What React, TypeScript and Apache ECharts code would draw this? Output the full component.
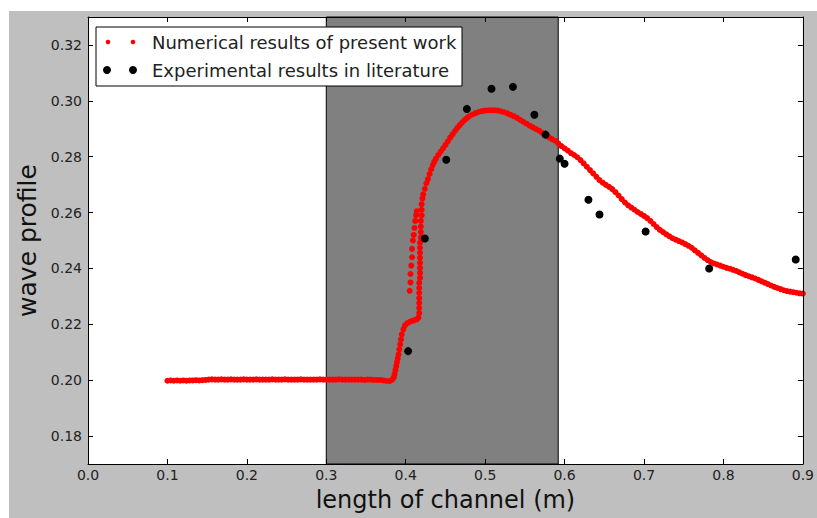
import React, { useEffect, useRef } from "react";
import * as echarts from "echarts";

const FONT = "DejaVu Sans";

// Numerical results of present work (red)
const plateauX = [0.100,0.104,0.108,0.112,0.116,0.120,0.124,0.128,0.132,0.136,0.140,0.144,0.148,0.152,0.156,0.160,0.164,0.168,0.172,0.176,0.180,0.184,0.188,0.192,0.196,0.200,0.204,0.208,0.212,0.216,0.220,0.224,0.228,0.232,0.236,0.240,0.244,0.248,0.252,0.256,0.260,0.264,0.268,0.272,0.276,0.280,0.284,0.288,0.292,0.296,0.300,0.304,0.308,0.312,0.316,0.320,0.324,0.328,0.332,0.336,0.340,0.344,0.348,0.352,0.356,0.360,0.364,0.368,0.372,0.376,0.380];
const plateauY = [0.1998,0.1999,0.1998,0.1999,0.1998,0.1999,0.1998,0.1999,0.1999,0.2000,0.1999,0.2000,0.2001,0.2002,0.2003,0.2002,0.2002,0.2003,0.2002,0.2002,0.2003,0.2002,0.2002,0.2002,0.2003,0.2002,0.2002,0.2002,0.2003,0.2002,0.2002,0.2002,0.2002,0.2003,0.2002,0.2002,0.2002,0.2003,0.2002,0.2002,0.2002,0.2002,0.2003,0.2002,0.2002,0.2002,0.2002,0.2002,0.2003,0.2002,0.2002,0.2002,0.2002,0.2002,0.2003,0.2002,0.2002,0.2002,0.2002,0.2002,0.2002,0.2002,0.2001,0.2002,0.2002,0.2001,0.2001,0.2001,0.1999,0.1997,0.1997];

const riseX = [0.383,0.385,0.386,0.387,0.388,0.389,0.390,0.391,0.392,0.393,0.394,0.395,0.397,0.399,0.402,0.405,0.408,0.411,0.414,0.416,0.417,0.417,0.417,0.417,0.417,0.417,0.417,0.418,0.418,0.418,0.418,0.418,0.418,0.418,0.418,0.419,0.419,0.419,0.419,0.420,0.420,0.405,0.406,0.406,0.407,0.408,0.408,0.409,0.410,0.411,0.412,0.413,0.414];
const riseY = [0.2002,0.2010,0.2022,0.2036,0.2050,0.2064,0.2078,0.2092,0.2110,0.2128,0.2146,0.2164,0.2182,0.2196,0.2204,0.2209,0.2212,0.2215,0.2218,0.2224,0.2240,0.2258,0.2276,0.2294,0.2312,0.2330,0.2348,0.2366,0.2384,0.2402,0.2420,0.2438,0.2456,0.2474,0.2492,0.2510,0.2530,0.2550,0.2570,0.2590,0.2610,0.2320,0.2350,0.2380,0.2410,0.2440,0.2470,0.2500,0.2520,0.2545,0.2570,0.2590,0.2605];

const crestX = [0.420,0.421,0.422,0.424,0.426,0.428,0.430,0.432,0.434,0.436,0.438,0.441,0.444,0.447,0.450,0.453,0.456,0.459,0.462,0.465,0.468,0.471,0.474,0.477,0.480,0.484,0.488,0.492,0.496,0.500,0.504,0.508,0.512,0.516,0.520,0.524,0.528,0.532,0.536,0.540,0.544,0.548,0.552,0.556,0.560,0.564,0.568,0.572,0.576,0.580,0.584,0.588,0.592,0.596,0.600];
const crestY = [0.2630,0.2650,0.2665,0.2685,0.2705,0.2720,0.2738,0.2755,0.2770,0.2782,0.2793,0.2806,0.2818,0.2830,0.2842,0.2855,0.2868,0.2880,0.2892,0.2903,0.2913,0.2922,0.2931,0.2938,0.2945,0.2951,0.2956,0.2960,0.2963,0.2965,0.2966,0.2966,0.2966,0.2965,0.2962,0.2959,0.2955,0.2950,0.2945,0.2939,0.2932,0.2925,0.2918,0.2911,0.2905,0.2899,0.2893,0.2885,0.2877,0.2870,0.2863,0.2857,0.2848,0.2838,0.2830];

const decayX = [0.604,0.608,0.612,0.616,0.620,0.624,0.628,0.632,0.636,0.640,0.644,0.648,0.652,0.656,0.660,0.664,0.668,0.672,0.676,0.680,0.684,0.688,0.692,0.696,0.700,0.704,0.708,0.712,0.716,0.720,0.724,0.728,0.732,0.736,0.740,0.744,0.748,0.752,0.756,0.760,0.764,0.768,0.772,0.776,0.780,0.784,0.788,0.792,0.796,0.800,0.804,0.808,0.812,0.816,0.820,0.824,0.828,0.832,0.836,0.840,0.844,0.848,0.852,0.856,0.860,0.864,0.868,0.872,0.876,0.880,0.884,0.888,0.892,0.896,0.900];
const decayY = [0.2822,0.2813,0.2806,0.2798,0.2788,0.2776,0.2764,0.2752,0.2740,0.2728,0.2716,0.2707,0.2699,0.2692,0.2684,0.2673,0.2661,0.2648,0.2636,0.2626,0.2618,0.2610,0.2602,0.2595,0.2588,0.2580,0.2570,0.2559,0.2548,0.2538,0.2530,0.2522,0.2515,0.2508,0.2503,0.2498,0.2493,0.2487,0.2481,0.2474,0.2465,0.2456,0.2447,0.2438,0.2430,0.2423,0.2418,0.2414,0.2410,0.2406,0.2402,0.2399,0.2395,0.2391,0.2386,0.2381,0.2376,0.2372,0.2368,0.2364,0.2359,0.2354,0.2349,0.2344,0.2339,0.2334,0.2330,0.2326,0.2322,0.2319,0.2317,0.2315,0.2313,0.2311,0.2310];

// Experimental results in literature (black)
const expX = [0.403,0.424,0.451,0.477,0.508,0.535,0.562,0.576,0.594,0.600,0.630,0.644,0.702,0.782,0.891];
const expY = [0.2104,0.2507,0.2789,0.2971,0.3043,0.3050,0.2950,0.2879,0.2793,0.2775,0.2646,0.2593,0.2532,0.2400,0.2432];

// Shaded region
const bandRange = [0.3, 0.592];

const yTicks = [0.18, 0.20, 0.22, 0.24, 0.26, 0.28, 0.30, 0.32];

const legendLabels = ["Numerical results of present work", "Experimental results in literature"];

function pairs(xs: number[], ys: number[]) {
  return xs.map((x, i) => [x, ys[i]]);
}

export default function App() {
  const ref = useRef<HTMLDivElement>(null);
  useEffect(() => {
    if (!ref.current) return;
    const chart = echarts.init(ref.current, undefined, { renderer: "svg" });
    const numerical = [
      ...pairs(plateauX, plateauY),
      ...pairs(riseX, riseY),
      ...pairs(crestX, crestY),
      ...pairs(decayX, decayY),
    ];
    const experimental = pairs(expX, expY);
    const axisCommon = {
      axisLine: { show: true, onZero: false, lineStyle: { color: "#000", width: 1 } },
      axisTick: { show: true, inside: true, length: 5, lineStyle: { color: "#000", width: 1 } },
      splitLine: { show: false },
      z: 10,
    };
    chart.setOption({
      animation: false,
      backgroundColor: "transparent",
      textStyle: { fontFamily: FONT },
      grid: {
        left: 88, top: 17, width: 717, height: 447,
        show: true, backgroundColor: "#fff", borderWidth: 0,
      },
      xAxis: [
        {
          ...axisCommon,
          type: "value", min: 0, max: 0.9, interval: 0.1, position: "bottom",
          axisLabel: { formatter: (v: number) => v.toFixed(1), color: "#222", fontSize: 14, fontFamily: FONT, margin: 4 },
          name: "length of channel (m)", nameLocation: "middle", nameGap: 24,
          nameTextStyle: { fontSize: 24, color: "#111", fontFamily: FONT },
        },
        {
          ...axisCommon,
          type: "value", min: 0, max: 0.9, interval: 0.1, position: "top",
          axisLabel: { show: false },
        },
      ],
      yAxis: [
        {
          ...axisCommon,
          type: "value", min: 0.17, max: 0.33, position: "left",
          axisTick: { ...axisCommon.axisTick, customValues: yTicks },
          axisLabel: { customValues: yTicks, formatter: (v: number) => v.toFixed(2), color: "#222", fontSize: 14, fontFamily: FONT, margin: 6 },
          name: "wave profile", nameLocation: "middle", nameGap: 46,
          nameTextStyle: { fontSize: 25, color: "#111", fontFamily: FONT },
        },
        {
          ...axisCommon,
          type: "value", min: 0.17, max: 0.33, position: "right",
          axisTick: { ...axisCommon.axisTick, customValues: yTicks },
          axisLabel: { show: false },
        },
      ],
      series: [
        {
          type: "line",
          data: [],
          z: 1,
          silent: true,
          markArea: {
            silent: true,
            itemStyle: { color: "#808080", borderColor: "#000", borderWidth: 1 },
            data: [[{ xAxis: bandRange[0] }, { xAxis: bandRange[1] }]],
          },
        },
        {
          type: "scatter",
          name: legendLabels[0],
          data: numerical,
          symbol: "circle",
          symbolSize: 6,
          itemStyle: { color: "#ff0000", opacity: 1 },
          z: 3,
        },
        {
          type: "scatter",
          name: legendLabels[1],
          data: experimental,
          symbol: "circle",
          symbolSize: 8,
          itemStyle: { color: "#000", opacity: 1 },
          z: 4,
        },
      ],
      graphic: [
        {
          type: "group",
          z: 100,
          children: [
            { type: "rect", shape: { x: 96, y: 27, width: 366, height: 59 }, style: { fill: "#fff", stroke: "#000", lineWidth: 1 }, z: 100 },
            { type: "circle", shape: { cx: 108, cy: 42, r: 2.3 }, style: { fill: "#ff0000" }, z: 101 },
            { type: "circle", shape: { cx: 133, cy: 42, r: 2.3 }, style: { fill: "#ff0000" }, z: 101 },
            { type: "circle", shape: { cx: 107, cy: 70, r: 4 }, style: { fill: "#000" }, z: 101 },
            { type: "circle", shape: { cx: 133, cy: 70, r: 4 }, style: { fill: "#000" }, z: 101 },
            { type: "text", x: 152, y: 42, style: { text: legendLabels[0], fontSize: 18, fontFamily: FONT, fill: "#222", verticalAlign: "middle" }, z: 101 },
            { type: "text", x: 152, y: 70, style: { text: legendLabels[1], fontSize: 18, fontFamily: FONT, fill: "#222", verticalAlign: "middle" }, z: 101 },
          ],
        },
      ],
    });
    return () => chart.dispose();
  }, []);
  return (
    <div style={{ position: "absolute", left: 0, top: 0, width: 817, height: 518, background: "#fff" }}>
      <div style={{ position: "absolute", left: 9, top: 11, right: 0, bottom: 0, background: "#bfbfbf" }} />
      <div ref={ref} style={{ position: "absolute", left: 0, top: 0, width: 817, height: 518 }} />
    </div>
  );
}
